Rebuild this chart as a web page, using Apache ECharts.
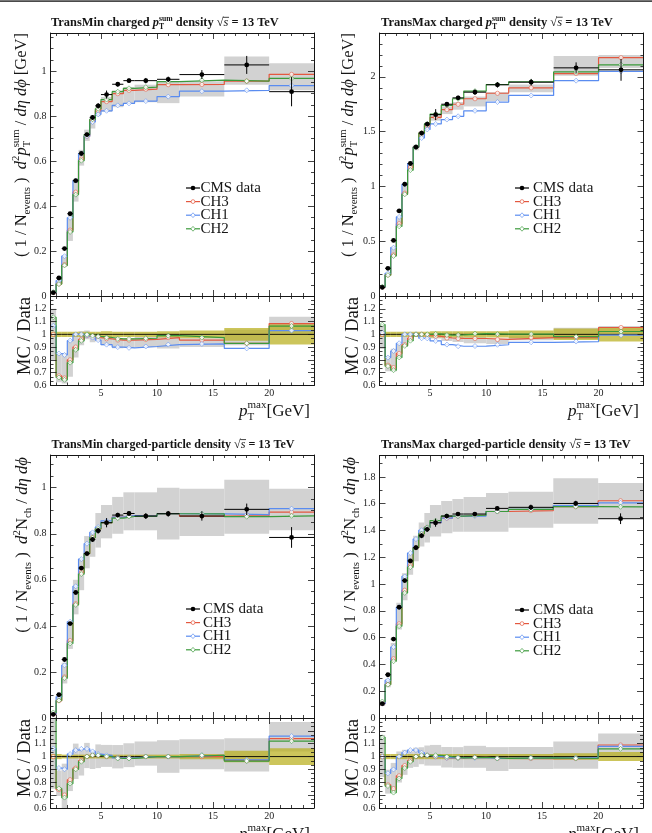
<!DOCTYPE html>
<html>
<head>
<meta charset="utf-8">
<script src="https://cdn.jsdelivr.net/npm/echarts@6/dist/echarts.min.js"></script>
<style>
  html, body { margin: 0; padding: 0; background: #fff; }
  #chart { width: 652px; height: 833px; }
</style>
</head>
<body>
<div id="chart"></div>
<script>
// bins in pT max [GeV]
const edges = [0.5, 1, 1.5, 2, 2.5, 3, 3.5, 4, 4.5, 5, 6, 7, 8, 10, 12, 16, 20, 24];
const binCenters = [0.75, 1.25, 1.75, 2.25, 2.75, 3.25, 3.75, 4.25, 4.75, 5.5, 6.5, 7.5, 9, 11, 14, 18, 22];
const xMajor = [5, 10, 15, 20];
const xMinor = [1, 2, 3, 4, 6, 7, 8, 9, 11, 12, 13, 14, 16, 17, 18, 19, 21, 22, 23];

// TransMin charged pT sum density
const aData = [0.015, 0.080, 0.211, 0.366, 0.513, 0.634, 0.718, 0.794, 0.846, 0.896, 0.942, 0.958, 0.958, 0.964, 0.985, 1.028, 0.909];
const aErr = [0.003, 0.004, 0.005, 0.006, 0.007, 0.008, 0.008, 0.010, 0.012, 0.018, 0.010, 0.010, 0.012, 0.012, 0.020, 0.040, 0.065];
const aCH3 = [0.015, 0.054, 0.139, 0.293, 0.462, 0.609, 0.711, 0.782, 0.825, 0.865, 0.900, 0.915, 0.920, 0.940, 0.941, 0.956, 0.986];
const aCH1 = [0.016, 0.068, 0.177, 0.348, 0.513, 0.634, 0.711, 0.774, 0.808, 0.824, 0.848, 0.857, 0.867, 0.887, 0.911, 0.915, 0.936];
const aCH2 = [0.017, 0.053, 0.136, 0.285, 0.451, 0.602, 0.718, 0.786, 0.833, 0.874, 0.909, 0.924, 0.929, 0.954, 0.960, 0.956, 0.968];
const aBandLo = [0.012, 0.050, 0.130, 0.245, 0.420, 0.580, 0.690, 0.745, 0.800, 0.820, 0.840, 0.855, 0.862, 0.858, 0.887, 0.940, 0.915];
const aBandHi = [0.018, 0.068, 0.180, 0.350, 0.520, 0.650, 0.740, 0.800, 0.850, 0.885, 0.915, 0.930, 0.940, 0.955, 0.955, 1.065, 1.035];
const aUnc = [0.02, 0.02, 0.02, 0.02, 0.02, 0.02, 0.02, 0.02, 0.02, 0.025, 0.02, 0.02, 0.02, 0.025, 0.03, 0.05, 0.08];

// TransMax charged pT sum density
const bData = [0.079, 0.253, 0.507, 0.776, 1.020, 1.209, 1.359, 1.487, 1.569, 1.655, 1.750, 1.808, 1.860, 1.927, 1.951, 2.082, 2.064];
const bErr = [0.005, 0.008, 0.010, 0.012, 0.014, 0.015, 0.016, 0.018, 0.020, 0.050, 0.020, 0.020, 0.025, 0.025, 0.030, 0.050, 0.100];
const bCH3 = [0.079, 0.192, 0.375, 0.660, 0.938, 1.173, 1.359, 1.487, 1.555, 1.630, 1.700, 1.750, 1.800, 1.850, 1.900, 2.030, 2.175];
const bCH1 = [0.080, 0.207, 0.441, 0.722, 1.020, 1.209, 1.359, 1.442, 1.520, 1.570, 1.610, 1.640, 1.690, 1.770, 1.830, 1.965, 2.050];
const bCH2 = [0.085, 0.190, 0.365, 0.636, 0.928, 1.149, 1.359, 1.487, 1.570, 1.660, 1.740, 1.800, 1.870, 1.930, 1.955, 2.045, 2.110];
const bBandLo = [0.070, 0.180, 0.360, 0.630, 0.920, 1.150, 1.330, 1.450, 1.530, 1.600, 1.660, 1.700, 1.730, 1.780, 1.860, 2.010, 2.080];
const bBandHi = [0.085, 0.210, 0.450, 0.720, 1.000, 1.210, 1.380, 1.500, 1.580, 1.660, 1.730, 1.770, 1.820, 1.860, 1.930, 2.190, 2.200];
const bUnc = [0.02, 0.02, 0.02, 0.02, 0.02, 0.02, 0.02, 0.02, 0.02, 0.025, 0.025, 0.025, 0.025, 0.025, 0.03, 0.045, 0.055];

// TransMin charged-particle density
const cData = [0.016, 0.101, 0.254, 0.410, 0.545, 0.651, 0.714, 0.775, 0.813, 0.848, 0.881, 0.888, 0.877, 0.887, 0.877, 0.906, 0.784];
const cErr = [0.003, 0.004, 0.005, 0.006, 0.007, 0.008, 0.008, 0.010, 0.012, 0.020, 0.010, 0.010, 0.012, 0.012, 0.020, 0.025, 0.045];
const cCH3 = [0.016, 0.075, 0.178, 0.336, 0.496, 0.631, 0.714, 0.783, 0.821, 0.848, 0.872, 0.879, 0.877, 0.887, 0.877, 0.879, 0.894];
const cCH1 = [0.017, 0.092, 0.229, 0.418, 0.572, 0.690, 0.757, 0.806, 0.829, 0.856, 0.872, 0.879, 0.877, 0.887, 0.886, 0.883, 0.909];
const cCH2 = [0.024, 0.076, 0.173, 0.324, 0.491, 0.625, 0.714, 0.783, 0.821, 0.848, 0.868, 0.875, 0.877, 0.887, 0.886, 0.874, 0.878];
const cBandLo = [0.012, 0.070, 0.150, 0.300, 0.450, 0.555, 0.650, 0.700, 0.740, 0.780, 0.800, 0.815, 0.815, 0.775, 0.790, 0.800, 0.815];
const cBandHi = [0.022, 0.090, 0.240, 0.420, 0.600, 0.690, 0.790, 0.810, 0.890, 0.925, 0.960, 0.980, 0.980, 1.000, 0.995, 1.035, 0.995];
const cUnc = [0.02, 0.02, 0.015, 0.015, 0.015, 0.015, 0.015, 0.015, 0.015, 0.015, 0.015, 0.015, 0.015, 0.015, 0.02, 0.045, 0.065];

// TransMax charged-particle density
const dData = [0.107, 0.323, 0.589, 0.827, 1.026, 1.173, 1.272, 1.361, 1.409, 1.458, 1.508, 1.523, 1.523, 1.565, 1.573, 1.602, 1.488];
const dErr = [0.005, 0.008, 0.010, 0.012, 0.014, 0.015, 0.016, 0.018, 0.020, 0.030, 0.012, 0.012, 0.015, 0.015, 0.020, 0.020, 0.040];
const dCH3 = [0.107, 0.252, 0.442, 0.703, 0.954, 1.138, 1.272, 1.375, 1.423, 1.458, 1.493, 1.508, 1.515, 1.542, 1.549, 1.578, 1.622];
const dCH1 = [0.107, 0.281, 0.530, 0.827, 1.057, 1.232, 1.336, 1.402, 1.423, 1.458, 1.493, 1.508, 1.508, 1.542, 1.557, 1.586, 1.607];
const dCH2 = [0.123, 0.249, 0.424, 0.686, 0.934, 1.126, 1.272, 1.375, 1.423, 1.473, 1.508, 1.508, 1.515, 1.542, 1.557, 1.578, 1.577];
const dBandLo = [0.090, 0.230, 0.430, 0.660, 0.880, 1.070, 1.170, 1.280, 1.310, 1.355, 1.380, 1.390, 1.390, 1.390, 1.420, 1.450, 1.490];
const dBandHi = [0.125, 0.290, 0.560, 0.860, 1.080, 1.220, 1.360, 1.460, 1.530, 1.590, 1.620, 1.635, 1.650, 1.680, 1.690, 1.790, 1.755];
const dUnc = [0.02, 0.02, 0.02, 0.02, 0.02, 0.02, 0.02, 0.02, 0.02, 0.02, 0.02, 0.02, 0.02, 0.02, 0.02, 0.025, 0.035];

const RED = '#e4583f';
const BLUE = '#5a8cf0';
const GREEN = '#3b9a3b';
const GRAY = '#d2d2d2';
const OLIVE = 'rgba(184,174,28,0.72)';
const INK = '#151515';
const SERIF = '"Liberation Serif","DejaVu Serif",serif';

// text pieces
const titlePT = (name) => [
  { t: name + ' charged ', s: 'bold' },
  { t: 'p', s: 'bold italic' },
  { t: 'sum', s: 'bold', k: 0.62, dy: -0.45, stack: true },
  { t: 'T', s: 'bold', k: 0.62, dy: 0.22 },
  { t: ' density ', s: 'bold' },
  { t: '√', s: 'normal' },
  { t: 's', s: 'italic', over: true },
  { t: ' = 13 TeV', s: 'bold' },
];
const titleN = (name) => [
  { t: name + ' charged-particle density ', s: 'bold' },
  { t: '√', s: 'normal' },
  { t: 's', s: 'italic', over: true },
  { t: ' = 13 TeV', s: 'bold' },
];
const ylabPT = [
  { t: '( 1 / N', s: 'normal' }, { t: 'events', s: 'normal', k: 0.65, dy: 0.25 }, { t: ' )  ', s: 'normal' },
  { t: 'd', s: 'italic' }, { t: '2', s: 'normal', k: 0.65, dy: -0.42 }, { t: 'p', s: 'italic' },
  { t: 'sum', s: 'normal', k: 0.65, dy: -0.45, stack: true }, { t: 'T', s: 'normal', k: 0.65, dy: 0.25 },
  { t: ' / ', s: 'normal' }, { t: 'dη dϕ', s: 'italic' }, { t: ' [GeV]', s: 'normal' },
];
const ylabN = [
  { t: '( 1 / N', s: 'normal' }, { t: 'events', s: 'normal', k: 0.65, dy: 0.25 }, { t: ' )  ', s: 'normal' },
  { t: 'd', s: 'italic' }, { t: '2', s: 'normal', k: 0.65, dy: -0.42 }, { t: 'N', s: 'normal' },
  { t: 'ch', s: 'normal', k: 0.65, dy: 0.25 },
  { t: ' / ', s: 'normal' }, { t: 'dη dϕ', s: 'italic' },
];
const ylabR = [{ t: 'MC / Data', s: 'normal' }];
const xlab = [
  { t: 'p', s: 'italic' }, { t: 'max', s: 'normal', k: 0.65, dy: -0.5, stack: true },
  { t: 'T', s: 'normal', k: 0.65, dy: 0.25 }, { t: '[GeV]', s: 'normal' },
];

const panels = [
  { data: aData, err: aErr, ch3: aCH3, ch1: aCH1, ch2: aCH2, lo: aBandLo, hi: aBandHi, unc: aUnc,
    left: 50.5, top: 33, w: 263.5, h: 263, rTop: 296, rH: 89.5, yMax: 1.17, yInt: 0.2, yMinor: 4,
    title: titlePT('TransMin'), tx: 51, ty: 27, tw: 228, ylab: ylabPT, yx: 27, yTop: 33, yw: 224,
    rx: 31, rTopLab: 297, xx: 310, xy: 417, lx: 186, ly: 188, ltx: 200.5 },
  { data: bData, err: bErr, ch3: bCH3, ch1: bCH1, ch2: bCH2, lo: bBandLo, hi: bBandHi, unc: bUnc,
    left: 379.5, top: 33, w: 264, h: 263, rTop: 296, rH: 89.5, yMax: 2.4, yInt: 0.5, yMinor: 5,
    title: titlePT('TransMax'), tx: 381, ty: 27, tw: 232, ylab: ylabPT, yx: 354, yTop: 33, yw: 224,
    rx: 359, rTopLab: 297, xx: 639, xy: 417, lx: 515, ly: 188, ltx: 533 },
  { data: cData, err: cErr, ch3: cCH3, ch1: cCH1, ch2: cCH2, lo: cBandLo, hi: cBandHi, unc: cUnc,
    left: 50.5, top: 455, w: 263.5, h: 263, rTop: 718, rH: 90, yMax: 1.142, yInt: 0.2, yMinor: 4,
    title: titleN('TransMin'), tx: 51.5, ty: 449, tw: 243, ylab: ylabN, yx: 28, yTop: 457, yw: 176,
    rx: 31, rTopLab: 719, xx: 310, xy: 840, lx: 186, ly: 609, ltx: 203 },
  { data: dData, err: dErr, ch3: dCH3, ch1: dCH1, ch2: dCH2, lo: dBandLo, hi: dBandHi, unc: dUnc,
    left: 379.5, top: 455.5, w: 263.5, h: 262.5, rTop: 718, rH: 90, yMax: 1.96, yInt: 0.2, yMinor: 2,
    title: titleN('TransMax'), tx: 381, ty: 449, tw: 250, ylab: ylabN, yx: 356, yTop: 457, yw: 176,
    rx: 359, rTopLab: 719, xx: 639, xy: 840, lx: 515, ly: 610, ltx: 533 },
];

// text measuring so that sub/superscripts can be placed by hand
const mctx = document.createElement('canvas').getContext('2d');
function fnt(style, size) { return style + ' ' + size.toFixed(2) + 'px ' + SERIF; }
function measure(t, f) { mctx.font = f; return mctx.measureText(t).width; }

function layoutPieces(pieces, size) {
  let x = 0, pend = 0;
  const items = [];
  pieces.forEach(p => {
    const sz = size * (p.k || 1);
    const f = fnt(p.s || 'normal', sz);
    const w = measure(p.t, f);
    items.push({ t: p.t, f, x, dy: (p.dy || 0) * size, sz, w, over: p.over });
    if (p.stack) {
      pend = Math.max(pend, w);
    } else {
      x += Math.max(w, pend);
      pend = 0;
    }
  });
  return { items, width: x };
}

function textGroup(pieces, size, opt) {
  let lay = layoutPieces(pieces, size);
  if (opt.fit) {
    size = size * opt.fit / lay.width;
    lay = layoutPieces(pieces, size);
  }
  const x0 = opt.align === 'right' ? -lay.width : 0;
  const children = [];
  lay.items.forEach(it => {
    children.push({
      type: 'text', x: x0 + it.x, y: it.dy - 0.34 * it.sz,
      style: { text: it.t, font: it.f, fill: INK, align: 'left', verticalAlign: 'middle' },
    });
    if (it.over) {
      const yy = it.dy - 0.78 * it.sz;
      children.push({
        type: 'line', shape: { x1: x0 + it.x - 0.05 * it.sz, y1: yy, x2: x0 + it.x + it.w + 0.05 * it.sz, y2: yy },
        style: { stroke: INK, lineWidth: 0.8 },
      });
    }
  });
  return { type: 'group', x: opt.x, y: opt.y, rotation: opt.rotate ? Math.PI / 2 : 0, silent: true, children };
}

function legendGroup(p) {
  const rows = [
    { name: 'CMS data', color: '#000', data: true },
    { name: 'CH3', color: RED, sym: 'circle' },
    { name: 'CH1', color: BLUE, sym: 'diamond' },
    { name: 'CH2', color: GREEN, sym: 'diamond' },
  ];
  const out = [];
  rows.forEach((r, i) => {
    const y = p.ly + i * 13.6;
    const cx = p.lx + 7;
    out.push({ type: 'line', shape: { x1: p.lx, y1: y, x2: p.lx + 14, y2: y }, style: { stroke: r.color, lineWidth: 1.2 } });
    if (r.data) {
      out.push({ type: 'circle', shape: { cx, cy: y, r: 2.3 }, style: { fill: '#000' } });
    } else if (r.sym === 'circle') {
      out.push({ type: 'circle', shape: { cx, cy: y, r: 1.9 }, style: { fill: '#fff', stroke: r.color, lineWidth: 0.7 } });
    } else {
      out.push({ type: 'polygon', shape: { points: [[cx, y - 2.4], [cx + 2.2, y], [cx, y + 2.4], [cx - 2.2, y]] },
        style: { fill: '#fff', stroke: r.color, lineWidth: 0.7 } });
    }
    out.push({ type: 'text', x: p.ltx, y: y,
      style: { text: r.name, font: fnt('normal', 15), fill: INK, align: 'left', verticalAlign: 'middle' } });
  });
  return { type: 'group', silent: true, children: out };
}

// axes
const axLine = { show: true, lineStyle: { color: INK, width: 1 } };
const tickStyle = { color: INK, width: 0.8 };
const labelStyle = { fontFamily: SERIF, fontSize: 10, color: '#222' };

function xAxesFor(g, showLabels) {
  const base = { type: 'value', gridIndex: g, min: 0.5, max: 24, splitLine: { show: false }, z: 10, silent: true };
  const major = { show: true, inside: true, length: 6, customValues: xMajor, lineStyle: tickStyle };
  const minor = { show: true, inside: true, length: 3, customValues: xMinor, lineStyle: tickStyle };
  return [
    Object.assign({}, base, { position: 'bottom', axisLine: axLine, axisTick: major,
      axisLabel: Object.assign({ show: showLabels, customValues: xMajor, margin: 3 }, labelStyle) }),
    Object.assign({}, base, { position: 'bottom', axisLine: { show: false }, axisTick: minor, axisLabel: { show: false } }),
    Object.assign({}, base, { position: 'top', axisLine: axLine, axisTick: major, axisLabel: { show: false } }),
    Object.assign({}, base, { position: 'top', axisLine: { show: false }, axisTick: minor, axisLabel: { show: false } }),
  ];
}

function yAxesFor(g, min, max, interval, minorSplit) {
  const base = {
    type: 'value', gridIndex: g, min, max, interval, splitLine: { show: false }, z: 10, silent: true,
    axisLine: axLine,
    axisTick: { show: true, inside: true, length: 6, lineStyle: tickStyle },
    minorTick: { show: true, splitNumber: minorSplit, length: 3, lineStyle: tickStyle },
    minorSplitLine: { show: false },
  };
  return [
    Object.assign({}, base, { position: 'left',
      axisLabel: Object.assign({ show: true, showMaxLabel: false, margin: 4 }, labelStyle) }),
    Object.assign({}, base, { position: 'right', axisLabel: { show: false } }),
  ];
}

// series helpers
function bandSeries(g, rows, color, z) {
  return {
    type: 'custom', xAxisIndex: 4 * g, yAxisIndex: 2 * g, clip: true, z, silent: true,
    data: rows, encode: { x: [0, 1], y: [2, 3] },
    renderItem(params, api) {
      const p0 = api.coord([api.value(0), api.value(3)]);
      const p1 = api.coord([api.value(1), api.value(2)]);
      return { type: 'rect', shape: { x: p0[0], y: p0[1], width: p1[0] - p0[0], height: p1[1] - p0[1] },
        style: { fill: color } };
    },
  };
}

function stepSeries(g, vals, color, z, width) {
  const pts = edges.map((e, i) => [e, vals[Math.min(i, vals.length - 1)]]);
  return { type: 'line', xAxisIndex: 4 * g, yAxisIndex: 2 * g, data: pts, step: 'end', symbol: 'none',
    lineStyle: { color, width: width || 1.2 }, z, silent: true };
}

function markerSeries(g, vals, color, symbol, z) {
  return { type: 'scatter', xAxisIndex: 4 * g, yAxisIndex: 2 * g, data: binCenters.map((c, i) => [c, vals[i]]),
    symbol, symbolSize: symbol === 'diamond' ? 5 : 4.2,
    itemStyle: { color: '#fff', borderColor: color, borderWidth: 0.7 }, z, silent: true };
}

function dataSeries(g, vals, errs) {
  return {
    type: 'custom', xAxisIndex: 4 * g, yAxisIndex: 2 * g, clip: true, z: 6, silent: true,
    data: vals.map((v, i) => [edges[i], edges[i + 1], binCenters[i], v, errs[i]]),
    encode: { x: [0, 1], y: 3 },
    renderItem(params, api) {
      const lo = api.value(0), hi = api.value(1), c = api.value(2), v = api.value(3), e = api.value(4);
      const a = api.coord([lo, v]), b = api.coord([hi, v]);
      const t = api.coord([c, v + e]), d = api.coord([c, v - e]), m = api.coord([c, v]);
      return { type: 'group', children: [
        { type: 'line', shape: { x1: a[0], y1: a[1], x2: b[0], y2: b[1] }, style: { stroke: '#000', lineWidth: 1 } },
        { type: 'line', shape: { x1: t[0], y1: t[1], x2: d[0], y2: d[1] }, style: { stroke: '#000', lineWidth: 1 } },
        { type: 'circle', shape: { cx: m[0], cy: m[1], r: 2.4 }, style: { fill: '#000' } },
      ] };
    },
  };
}

const grids = [], xAxes = [], yAxes = [], series = [];
const graphic = [{ type: 'rect', shape: { x: 0, y: 0.3, width: 652, height: 1.6 }, style: { fill: '#4a4a4a' }, silent: true }];

panels.forEach((p, k) => {
  const gm = 2 * k, gr = 2 * k + 1;
  grids.push({ left: p.left, top: p.top, width: p.w, height: p.h, containLabel: false, outerBoundsMode: 'none' });
  grids.push({ left: p.left, top: p.rTop, width: p.w, height: p.rH, containLabel: false, outerBoundsMode: 'none' });
  xAxes.push(...xAxesFor(gm, false), ...xAxesFor(gr, true));
  yAxes.push(...yAxesFor(gm, 0, p.yMax, p.yInt, p.yMinor), ...yAxesFor(gr, 0.6, 1.3, 0.1, 3));

  // main panel
  series.push(bandSeries(gm, p.lo.map((lo, i) => [edges[i], edges[i + 1], lo, p.hi[i]]), GRAY, 1));
  series.push(stepSeries(gm, p.ch3, RED, 2));
  series.push(stepSeries(gm, p.ch1, BLUE, 2));
  series.push(stepSeries(gm, p.ch2, GREEN, 2));
  series.push(markerSeries(gm, p.ch3, RED, 'circle', 3));
  series.push(markerSeries(gm, p.ch1, BLUE, 'diamond', 3));
  series.push(markerSeries(gm, p.ch2, GREEN, 'diamond', 3));
  series.push(dataSeries(gm, p.data, p.err));

  // ratio panel
  const r3 = p.ch3.map((v, i) => v / p.data[i]);
  const r1 = p.ch1.map((v, i) => v / p.data[i]);
  const r2 = p.ch2.map((v, i) => v / p.data[i]);
  const rData = p.data.map(v => v / v);
  series.push(bandSeries(gr, p.lo.map((lo, i) => [edges[i], edges[i + 1], lo / p.data[i], p.hi[i] / p.data[i]]), GRAY, 1));
  series.push(bandSeries(gr, p.unc.map((u, i) => [edges[i], edges[i + 1], 1 - u, 1 + u]), OLIVE, 1.5));
  series.push(stepSeries(gr, rData, '#000', 2, 0.9));
  series.push(stepSeries(gr, r3, RED, 2));
  series.push(stepSeries(gr, r1, BLUE, 2));
  series.push(stepSeries(gr, r2, GREEN, 2));
  series.push(markerSeries(gr, r3, RED, 'circle', 3));
  series.push(markerSeries(gr, r1, BLUE, 'diamond', 3));
  series.push(markerSeries(gr, r2, GREEN, 'diamond', 3));

  // texts
  graphic.push(textGroup(p.title, 12, { x: p.tx, y: p.ty, fit: p.tw }));
  graphic.push(textGroup(p.ylab, 16, { x: p.yx, y: p.yTop, rotate: true, align: 'right', fit: p.yw }));
  graphic.push(textGroup(ylabR, 18, { x: p.rx, y: p.rTopLab, rotate: true, align: 'right', fit: 78 }));
  graphic.push(textGroup(xlab, 18, { x: p.xx, y: p.xy, align: 'right', fit: 71 }));
  graphic.push(legendGroup(p));
});

const chart = echarts.init(document.getElementById('chart'), null, { renderer: 'canvas' });
chart.setOption({
  animation: false,
  backgroundColor: '#fff',
  grid: grids,
  xAxis: xAxes,
  yAxis: yAxes,
  series,
  graphic,
});
</script>
</body>
</html>
